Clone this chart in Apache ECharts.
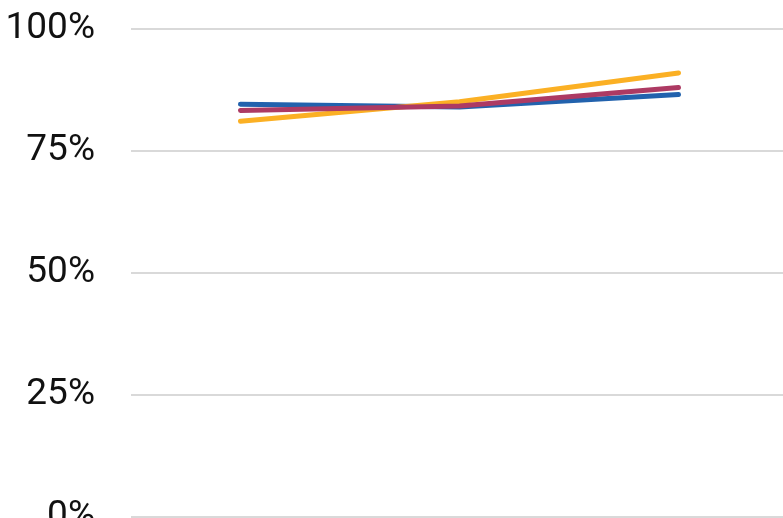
<!DOCTYPE html>
<html><head><meta charset="utf-8">
<script src="https://cdn.jsdelivr.net/npm/echarts@6/dist/echarts.min.js"></script>
<style>html,body{margin:0;padding:0;background:#fff}#c{width:783px;height:518px}</style>
</head><body><div id="c"></div>
<script>
const categories = ['1', '2', '3'];
const blueValues = [0.846, 0.840, 0.866];
const redValues = [0.833, 0.842, 0.880];
const yellowValues = [0.811, 0.851, 0.910];
const yTicks = [0, 0.25, 0.5, 0.75, 1];

const chart = echarts.init(document.getElementById('c'));
const mk = (name, data, color, z) => ({
  name, type: 'line', data, z,
  symbol: 'none', smooth: false,
  lineStyle: { color, width: 5, cap: 'round', join: 'round' },
  itemStyle: { color }
});
chart.setOption({
  animation: false,
  grid: { left: 131, right: -5, top: 29, bottom: 1, containLabel: false, outerBoundsMode: 'none' },
  xAxis: {
    type: 'category', data: categories, boundaryGap: true,
    axisLine: { show: false }, axisTick: { show: false }, axisLabel: { show: false },
    splitLine: { show: false }
  },
  yAxis: {
    type: 'value', min: yTicks[0], max: yTicks[yTicks.length - 1], interval: 0.25,
    axisLine: { show: false }, axisTick: { show: false },
    axisLabel: {
      margin: 36, fontSize: 37, color: '#111', fontFamily: 'Roboto',
      formatter: v => Math.round(v * 100) + '%'
    },
    splitLine: { lineStyle: { color: '#d9d9d9', width: 2 } }
  },
  series: [
    mk('Blue', blueValues, '#2262ad', 2),
    mk('Yellow', yellowValues, '#fbb024', 3),
    mk('Red', redValues, '#ad3a63', 4)
  ]
});
</script></body></html>
